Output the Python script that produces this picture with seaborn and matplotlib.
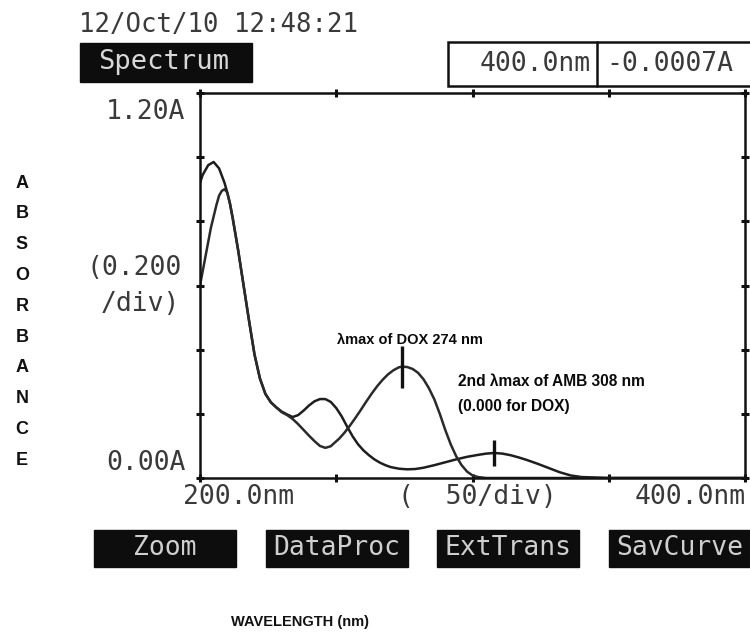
import matplotlib
matplotlib.use("Agg")
import matplotlib.pyplot as plt
import seaborn as sns
import pandas as pd
from matplotlib.patches import Rectangle
from matplotlib.lines import Line2D

# Absorbance spectra (wavelength in nm, absorbance in A)
amb_nm = [200, 201, 203, 205, 207, 209, 210, 211, 212, 213, 214, 216, 218, 220,
          222, 224, 226, 228, 230, 232, 234, 236, 238, 240, 242, 244, 246, 248,
          250, 252, 254, 256, 258, 260, 262, 264, 266, 268, 270, 273, 276, 279,
          282, 286, 290, 294, 298, 302, 305, 308, 311, 314, 317, 320, 324, 328,
          332, 336, 340, 350, 375, 400]
amb_abs = [0.92, 0.945, 0.975, 0.985, 0.965, 0.92, 0.89, 0.855, 0.81, 0.76,
           0.71, 0.60, 0.49, 0.385, 0.31, 0.262, 0.236, 0.22, 0.207, 0.198,
           0.19, 0.196, 0.21, 0.226, 0.239, 0.246, 0.246, 0.237, 0.218, 0.192,
           0.16, 0.13, 0.105, 0.086, 0.071, 0.058, 0.048, 0.04, 0.034, 0.029,
           0.027, 0.028, 0.032, 0.04, 0.049, 0.058, 0.066, 0.072, 0.076, 0.078,
           0.076, 0.071, 0.064, 0.056, 0.044, 0.031, 0.018, 0.008, 0.003, 0.0,
           0.0, 0.0]

dox_nm = [200, 202, 204, 206, 207, 208, 209, 210, 211, 212, 213, 214, 216, 218,
          220, 222, 224, 226, 228, 230, 232, 234, 236, 238, 240, 242, 244, 246,
          248, 249, 251, 253, 255, 257, 259, 261, 263, 265, 267, 269, 271, 273,
          274, 276, 278, 280, 282, 284, 286, 288, 290, 292, 294, 296, 298, 300,
          302, 305, 310, 350, 400]
dox_abs = [0.60, 0.69, 0.78, 0.85, 0.88, 0.895, 0.90, 0.89, 0.855, 0.81, 0.76,
           0.71, 0.60, 0.49, 0.385, 0.31, 0.262, 0.236, 0.22, 0.205, 0.196,
           0.184, 0.168, 0.15, 0.132, 0.115, 0.1, 0.094, 0.099, 0.107, 0.122,
           0.141, 0.163, 0.187, 0.212, 0.238, 0.263, 0.286, 0.306, 0.323, 0.336,
           0.345, 0.347, 0.346, 0.34, 0.328, 0.308, 0.28, 0.245, 0.2, 0.15,
           0.105, 0.068, 0.04, 0.02, 0.008, 0.003, 0.0, 0.0, 0.0, 0.0]

# Marked maxima: DOX at 274 nm, second AMB maximum at 308 nm
peak_nm = [274, 308]
peak_abs = [0.347, 0.078]
peak_half = [0.065, 0.04]

# Axis / screen texts
y_top_label, y_bottom_label = "1.20A", "0.00A"
y_div_label = ["(0.200", "/div)"]
x_left_label, x_mid_label, x_right_label = "200.0nm", "(  50/div)", "400.0nm"
timestamp = "12/Oct/10 12:48:21"
mode_label = "Spectrum"
cursor_labels = ["400.0nm", "-0.0007A"]
buttons = ["Zoom", "DataProc", "ExtTrans", "SavCurve"]
x_title = "WAVELENGTH (nm)"
y_title = "ABSORBANCE"
note_dox = "\u03bbmax of DOX 274 nm"
note_amb = ["2nd \u03bbmax of AMB 308 nm", "(0.000 for DOX)"]

sns.set_theme(style="white")
mono = ["DejaVu Sans Mono"]
sans = ["Liberation Sans", "DejaVu Sans"]
plt.rcParams["font.family"] = mono

W, H = 750, 638
fig = plt.figure(figsize=(W / 100, H / 100), dpi=100)
fig.patch.set_facecolor("white")


def P(x, y):
    """Pixel position (from top-left) to figure fraction."""
    return x / W, 1 - y / H


ax = fig.add_axes([200 / W, 1 - 478 / H, 545 / W, 385 / H])

df = pd.concat([
    pd.DataFrame({"nm": amb_nm, "A": amb_abs, "drug": "AMB"}),
    pd.DataFrame({"nm": dox_nm, "A": dox_abs, "drug": "DOX"}),
])
sns.lineplot(data=df, x="nm", y="A", hue="drug",
             palette={"AMB": "#1e1e1e", "DOX": "#2a2a2a"},
             estimator=None, linewidth=1.8, legend=False, ax=ax)

# peak markers
ax.vlines(peak_nm, [a - h for a, h in zip(peak_abs, peak_half)],
          [a + h for a, h in zip(peak_abs, peak_half)],
          colors="#111111", linewidth=2.4)

ax.set_xlim(200, 400)
ax.set_ylim(0, 1.2)
ax.set_xticks([200, 250, 300, 350, 400])
ax.set_yticks([0, 0.2, 0.4, 0.6, 0.8, 1.0, 1.2])
ax.tick_params(direction="inout", length=6, width=2.2, color="#111111",
               top=True, right=True, bottom=True, left=True,
               labelbottom=False, labelleft=False)
ax.set_xlabel("")
ax.set_ylabel("")
ax.grid(False)
for sp in ax.spines.values():
    sp.set_color("#111111")
    sp.set_linewidth(1.8)

# annotations inside the plot
note_kw = dict(family=sans, fontsize=10.5, fontweight="bold", color="#0a0a0a")
fig.text(*P(410, 340), note_dox, ha="center", va="center", **note_kw)
fig.text(*P(458, 382), note_amb[0], ha="left", va="center",
         **{**note_kw, "fontsize": 11.2})
fig.text(*P(458, 407), note_amb[1], ha="left", va="center",
         **{**note_kw, "fontsize": 11.2})

# scale labels in the instrument font
lab_kw = dict(family=mono, fontsize=19, color="#3a3a3a")
fig.text(*P(185, 112), y_top_label, ha="right", va="center", **lab_kw)
fig.text(*P(182, 268), y_div_label[0], ha="right", va="center", **lab_kw)
fig.text(*P(180, 304), y_div_label[1], ha="right", va="center", **lab_kw)
fig.text(*P(186, 463), y_bottom_label, ha="right", va="center", **lab_kw)
fig.text(*P(183, 497), x_left_label, ha="left", va="center", **lab_kw)
fig.text(*P(398, 497), x_mid_label, ha="left", va="center", **lab_kw)
fig.text(*P(746, 497), x_right_label, ha="right", va="center", **lab_kw)

# header
fig.text(*P(79, 25), timestamp, ha="left", va="center",
         **{**lab_kw, "fontsize": 18.5})
fig.patches.append(Rectangle(P(80, 82), 172 / W, 39 / H, transform=fig.transFigure,
                             facecolor="#0d0d0d", edgecolor="#0d0d0d", lw=1))
fig.text(*P(164, 62), mode_label, ha="center", va="center", family=mono,
         fontsize=19.5, color="#d8d8d8")

# cursor readout box
fig.patches.append(Rectangle(P(448, 86), 330 / W, 44 / H, transform=fig.transFigure,
                             facecolor="white", edgecolor="#111111", lw=1.8))
fig.lines.append(Line2D([597 / W, 597 / W], [1 - 86 / H, 1 - 42 / H],
                        transform=fig.transFigure, color="#111111", lw=1.8))
fig.text(*P(591, 64), cursor_labels[0], ha="right", va="center", **lab_kw)
fig.text(*P(606, 64), cursor_labels[1], ha="left", va="center", **lab_kw)

# soft-key buttons
for i, name in enumerate(buttons):
    x0 = 94 + 171.5 * i
    fig.patches.append(Rectangle(P(x0, 567), 142 / W, 37 / H,
                                 transform=fig.transFigure,
                                 facecolor="#0d0d0d", edgecolor="#0d0d0d", lw=1))
    fig.text(*P(x0 + 71, 548), name, ha="center", va="center", family=mono,
             fontsize=19, color="#cfcfcf")

# axis titles
fig.text(*P(300, 622), x_title, ha="center", va="center", family=sans,
         fontsize=10.5, fontweight="bold", color="#111111")
for i, ch in enumerate(y_title):
    fig.text(*P(22, 183 + 30.8 * i), ch, ha="center", va="center", family=sans,
             fontsize=13, fontweight="bold", color="#111111")

fig.savefig("out.png", dpi=100, facecolor="white")
